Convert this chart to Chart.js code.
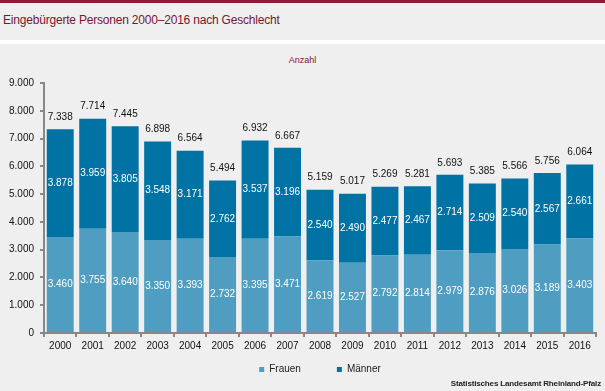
<!DOCTYPE html>
<html><head><meta charset="utf-8">
<script src="https://cdn.jsdelivr.net/npm/chart.js@4/dist/chart.umd.min.js"></script>
<style>
html,body{margin:0;padding:0;}
body{width:605px;height:391px;background:#eeefee;position:relative;overflow:hidden;font-family:"Liberation Sans",Arial,sans-serif;}
#topbar{position:absolute;left:0;top:0;width:605px;height:3px;background:#8a1c3a;}
#title{position:absolute;left:3px;top:13px;font-size:12px;line-height:14px;letter-spacing:-0.2px;color:#7a1434;white-space:nowrap;}
#sep{position:absolute;left:0;top:40px;width:605px;height:4px;background:#fff;}
#unit{position:absolute;left:0;width:605px;text-align:center;top:55px;font-size:9px;line-height:11px;color:#7a1434;}
#src{position:absolute;right:4px;top:379px;font-size:8px;line-height:10px;font-weight:bold;letter-spacing:-0.15px;color:#222;white-space:nowrap;}
#wrap{position:absolute;left:0;top:44px;width:605px;height:347px;}
</style></head>
<body>
<div id="topbar"></div>
<div id="title">Eingebürgerte Personen 2000–2016 nach Geschlecht</div>
<div id="sep"></div>
<div id="unit">Anzahl</div>
<div id="wrap"><canvas id="c" width="605" height="347" style="width:605px;height:347px;display:block"></canvas></div>
<div id="src">Statistisches Landesamt Rheinland-Pfalz</div>
<script>
const years = ['2000','2001','2002','2003','2004','2005','2006','2007','2008','2009','2010','2011','2012','2013','2014','2015','2016'];
const frauen = [3460,3755,3640,3350,3393,2732,3395,3471,2619,2527,2792,2814,2979,2876,3026,3189,3403];
const maenner = [3878,3959,3805,3548,3171,2762,3537,3196,2540,2490,2477,2467,2714,2509,2540,2567,2661];
const totals = [7338,7714,7445,6898,6564,5494,6932,6667,5159,5017,5269,5281,5693,5385,5566,5756,6064];
const yMin = 0, yMax = 9000, yStep = 1000;

const FAM = '"Liberation Sans", Arial, sans-serif';
function fmt(v){ return String(v).replace(/\B(?=(\d{3})+(?!\d))/g, '.'); }

const labelPlugin = {
  id: 'valueLabels',
  afterLayout(chart){
    const lg = chart.legend; if(!lg) return;
    const pad = lg.options.labels.padding;
    const w = lg.right - lg.left;
    lg.left = 320 - w/2; lg.right = lg.left + w;
    lg.top = 320.5 - pad; lg.bottom = chart.height;
    lg.height = lg.bottom - lg.top;
  },
  afterDatasetsDraw(chart){
    const ctx = chart.ctx; ctx.save();
    ctx.font = '10px ' + FAM;
    ctx.textAlign = 'center'; ctx.textBaseline = 'middle';
    chart.data.datasets.forEach((ds, di) => {
      const meta = chart.getDatasetMeta(di);
      ctx.fillStyle = '#ffffff';
      meta.data.forEach((el, i) => {
        ctx.fillText(fmt(ds.data[i]), el.x, (el.y + el.base)/2);
      });
    });
    const top = chart.getDatasetMeta(chart.data.datasets.length - 1);
    ctx.fillStyle = '#111111';
    top.data.forEach((el, i) => { ctx.fillText(fmt(totals[i]), el.x, el.y - 12); });
    ctx.restore();
  }
};

new Chart(document.getElementById('c'), {
  type: 'bar',
  data: {
    labels: years,
    datasets: [
      {label:'Frauen', data: frauen, backgroundColor:'#4f9ec1', barPercentage:0.83, categoryPercentage:1},
      {label:'Männer', data: maenner, backgroundColor:'#0072a4', barPercentage:0.83, categoryPercentage:1}
    ]
  },
  options: {
    responsive:false, animation:false, devicePixelRatio:1,
    layout:{padding:{top:39,right:9,left:0,bottom:0}},
    plugins:{
      legend:{position:'bottom', maxHeight:30,
        labels:{boxWidth:5, boxHeight:5, padding:36, color:'#222', font:{size:10, family:FAM}}},
      tooltip:{enabled:false}, title:{display:false}
    },
    scales:{
      x:{stacked:true,
        grid:{display:true, drawOnChartArea:false, drawTicks:true, tickLength:4, color:'#888', lineWidth:2, offset:true},
        border:{color:'#888', width:2},
        ticks:{color:'#111', font:{size:10, family:FAM}, padding:3, maxRotation:0, autoSkip:false},
        afterFit(s){ s.height = 28; }
      },
      y:{stacked:true, min:yMin, max:yMax,
        ticks:{stepSize:yStep, callback:v=>fmt(v), color:'#111', font:{size:10, family:FAM}, padding:6},
        grid:{drawOnChartArea:false, tickLength:4, color:'#888', lineWidth:2},
        border:{color:'#888', width:2},
        afterFit(s){ s.width = 44; }
      }
    }
  },
  plugins:[labelPlugin]
});
</script>
</body></html>
